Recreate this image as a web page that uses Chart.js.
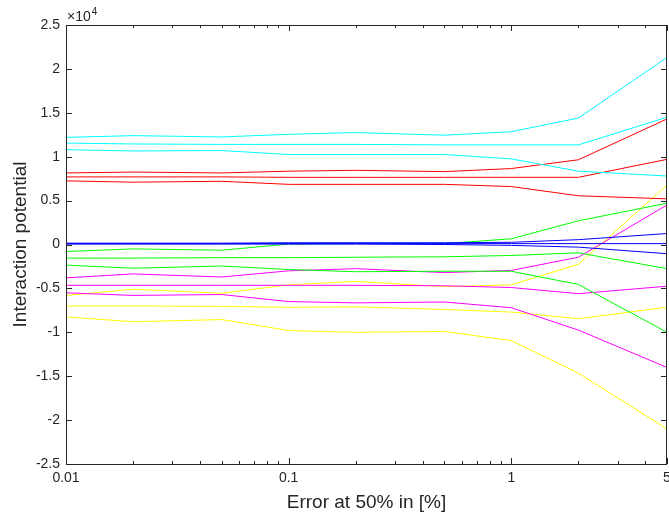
<!DOCTYPE html>
<html>
<head>
<meta charset="utf-8">
<script src="https://cdn.jsdelivr.net/npm/chart.js@4"></script>
<style>
  html, body { margin: 0; padding: 0; background: #fff; }
  #wrap { width: 669px; height: 515px; }
</style>
</head>
<body>
<div id="wrap"><canvas id="chart" width="669" height="515"></canvas></div>
<script>
// error levels on the x axis (percent)
const errorPct = [0.01, 0.02, 0.05, 0.1, 0.2, 0.5, 1, 2, 5];

// interaction potential per curve, grouped by colour
const cyanA = [12200, 12400, 12250, 12550, 12750, 12450, 12850, 14400, 21300];
const cyanB = [11550, 11450, 11400, 11400, 11400, 11350, 11350, 11350, 14500];
const cyanC = [10800, 10650, 10700, 10250, 10250, 10250, 9750, 8350, 7800];

const redA = [8150, 8250, 8150, 8350, 8450, 8300, 8650, 9650, 14300];
const redB = [7700, 7700, 7700, 7650, 7650, 7650, 7650, 7650, 9700];
const redC = [7250, 7100, 7200, 6850, 6850, 6850, 6600, 5550, 5200];

const blueA = [150, 150, 150, 200, 200, 200, 250, 550, 1250];
const blueB = [100, 100, 100, 100, 100, 100, 100, 100, 100];
const blueC = [50, 50, 50, 50, 50, 0, -100, -300, -1050];

const greenA = [-800, -500, -650, 50, 100, 100, 650, 2700, 4700];
const greenB = [-1550, -1550, -1500, -1500, -1450, -1400, -1250, -950, -2750];
const greenC = [-2350, -2700, -2450, -2850, -3100, -3050, -3050, -4550, -10000];

const magentaA = [-3800, -3350, -3700, -3000, -2750, -3200, -2950, -1450, 4500];
const magentaB = [-4650, -4650, -4650, -4650, -4650, -4700, -4900, -5600, -4750];
const magentaC = [-5500, -5800, -5700, -6500, -6650, -6550, -7200, -9750, -14000];

const yellowA = [-5800, -5100, -5550, -4600, -4200, -4800, -4600, -2250, 6750];
const yellowB = [-7000, -7000, -7050, -7150, -7100, -7400, -7700, -8450, -7150];
const yellowC = [-8250, -8800, -8550, -9800, -10000, -9900, -10950, -14650, -21000];

// tick labels
const xTickValues = [0.01, 0.1, 1, 5];
const xMinorTicks = [0.02, 0.03, 0.04, 0.05, 0.06, 0.07, 0.08, 0.09,
                     0.2, 0.3, 0.4, 0.5, 0.6, 0.7, 0.8, 0.9, 2, 3, 4];
const yTickValues = [-25000, -20000, -15000, -10000, -5000, 0, 5000, 10000, 15000, 20000, 25000];

const series = [
  [cyanA, '#00ffff'], [cyanB, '#00ffff'], [cyanC, '#00ffff'],
  [redA, '#ff0000'], [redB, '#ff0000'], [redC, '#ff0000'],
  [blueA, '#0000ff'], [blueB, '#0000ff'], [blueC, '#0000ff'],
  [greenA, '#00ff00'], [greenB, '#00ff00'], [greenC, '#00ff00'],
  [magentaA, '#ff00ff'], [magentaB, '#ff00ff'], [magentaC, '#ff00ff'],
  [yellowA, '#ffff00'], [yellowB, '#ffff00'], [yellowC, '#ffff00'],
];

const FONT = '"Liberation Sans", Arial, Helvetica, sans-serif';
const AXIS = '#262626';

// box outline, inward ticks on all four sides and the x10^4 multiplier
const axesBox = {
  id: 'axesBox',
  afterDatasetsDraw(chart) {
    const { ctx, chartArea, scales } = chart;
    const { left, right, top, bottom } = chartArea;
    const x = scales.x, y = scales.y;
    ctx.save();
    ctx.strokeStyle = AXIS;
    ctx.lineWidth = 1;
    ctx.beginPath();
    yTickValues.forEach(v => {
      const py = Math.round(y.getPixelForValue(v)) + 0.5;
      ctx.moveTo(left, py); ctx.lineTo(left + 6, py);
      ctx.moveTo(right, py); ctx.lineTo(right - 6, py);
    });
    xTickValues.forEach(v => {
      const px = Math.round(x.getPixelForValue(v)) + 0.5;
      ctx.moveTo(px, bottom); ctx.lineTo(px, bottom - 6);
      ctx.moveTo(px, top); ctx.lineTo(px, top + 6);
    });
    xMinorTicks.forEach(v => {
      const px = Math.round(x.getPixelForValue(v)) + 0.5;
      ctx.moveTo(px, bottom); ctx.lineTo(px, bottom - 3);
      ctx.moveTo(px, top); ctx.lineTo(px, top + 3);
    });
    ctx.stroke();
    ctx.strokeRect(Math.round(left) + 0.5, Math.round(top) + 0.5,
                   Math.round(right - left) - 1, Math.round(bottom - top));

    ctx.fillStyle = AXIS;
    ctx.textBaseline = 'alphabetic';
    ctx.textAlign = 'left';
    ctx.font = '14px ' + FONT;
    ctx.fillText('\u00d710', left + 1, top - 4);
    const w = ctx.measureText('\u00d710').width;
    ctx.font = '10px ' + FONT;
    ctx.fillText('4', left + 1 + w + 1, top - 10);
    ctx.restore();
  }
};

new Chart(document.getElementById('chart'), {
  type: 'line',
  data: {
    datasets: series.map(([vals, color]) => ({
      data: errorPct.map((e, i) => ({ x: e, y: vals[i] })),
      borderColor: color,
      borderWidth: 1,
      pointRadius: 0,
      fill: false,
      tension: 0,
    })),
  },
  options: {
    responsive: false,
    animation: false,
    devicePixelRatio: 1,
    layout: { padding: { left: 0, top: 25, right: 2, bottom: 0 } },
    plugins: { legend: { display: false }, tooltip: { enabled: false } },
    scales: {
      x: {
        type: 'logarithmic',
        min: 0.01,
        max: 5,
        grid: { display: false, drawTicks: false },
        border: { display: false },
        afterBuildTicks: scale => { scale.ticks = xTickValues.map(v => ({ value: v })); },
        afterFit: scale => { scale.height = 51; scale.paddingLeft = 0; scale.paddingRight = 0; },
        ticks: {
          autoSkip: false,
          maxRotation: 0,
          padding: 6,
          color: AXIS,
          font: { family: FONT, size: 14 },
          callback: v => String(v),
        },
        title: {
          display: true,
          text: 'Error at 50% in [%]',
          color: AXIS,
          font: { family: FONT, size: 19 },
          padding: { top: 0, bottom: 1 },
        },
      },
      y: {
        min: -25000,
        max: 25000,
        grid: { display: false, drawTicks: false },
        border: { display: false },
        afterBuildTicks: scale => { scale.ticks = yTickValues.map(v => ({ value: v })); },
        afterFit: scale => { scale.width = 66; scale.paddingTop = 0; scale.paddingBottom = 0; },
        ticks: {
          padding: 6,
          color: AXIS,
          font: { family: FONT, size: 14 },
          callback: v => String(v / 10000),
        },
        title: {
          display: true,
          text: 'Interaction potential',
          color: AXIS,
          font: { family: FONT, size: 19 },
          padding: { top: 9, bottom: 0 },
        },
      },
    },
  },
  plugins: [axesBox],
});
</script>
</body>
</html>
